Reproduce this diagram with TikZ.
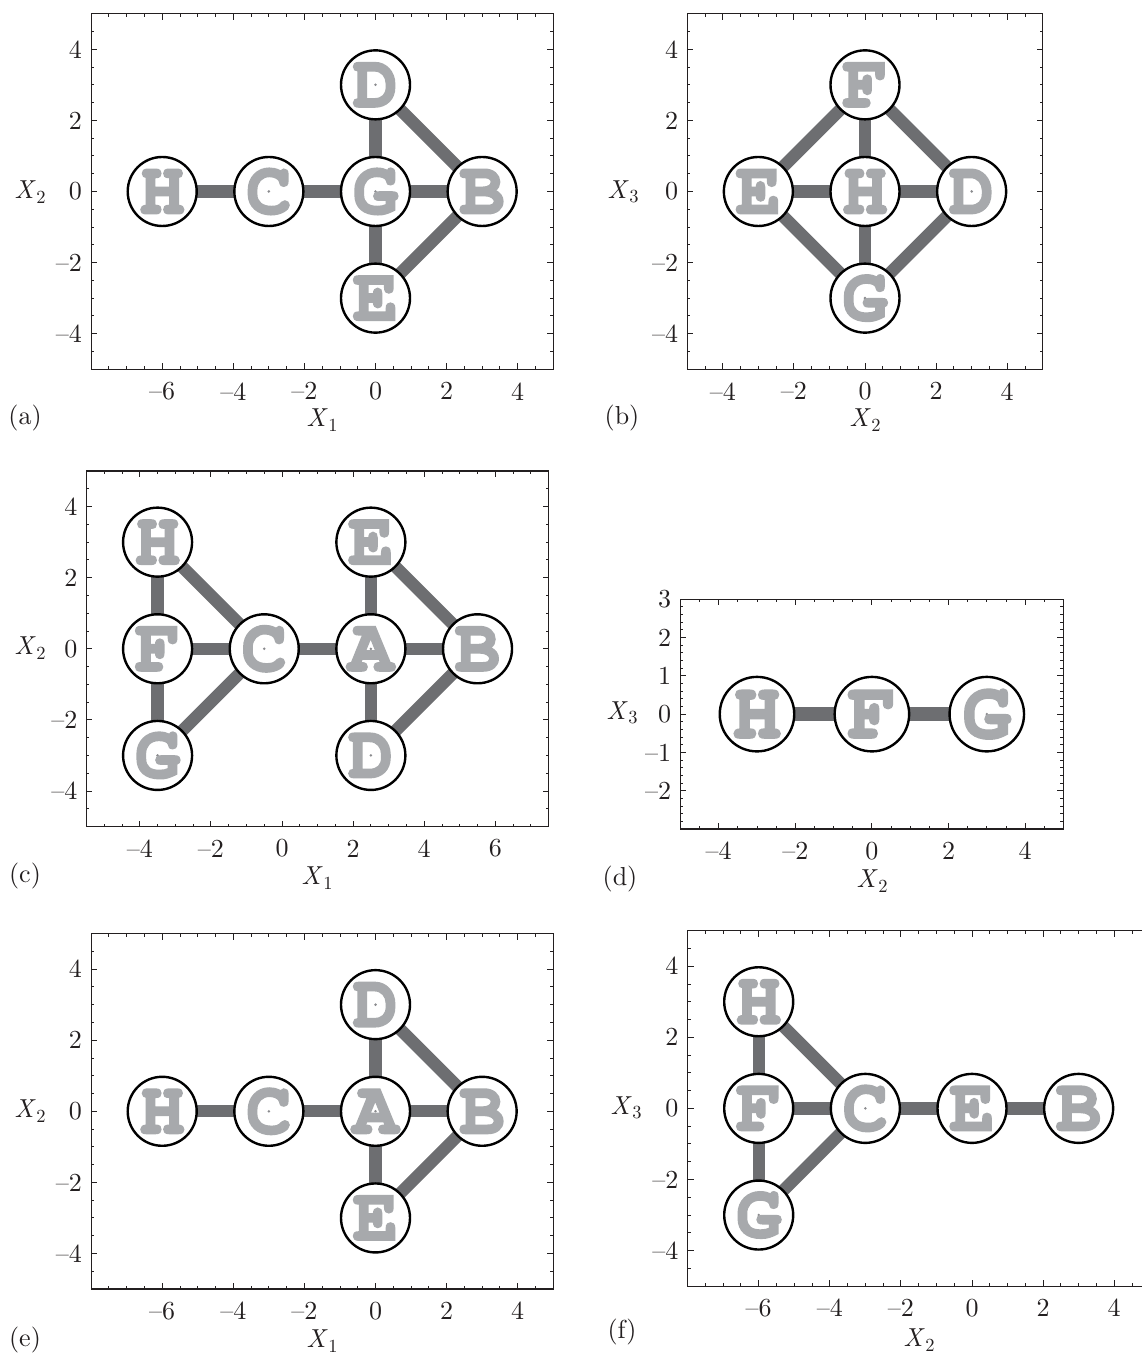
\documentclass[tikz,border=0pt]{standalone}
\usepackage{fontspec}
\setmainfont{lmroman10-regular}[Extension=.otf, ItalicFont=lmroman10-italic, BoldFont=lmroman10-bold]
\newfontfamily\letterfont{TeX Gyre Cursor}[BoldFeatures={FakeBold=3}]
\definecolor{edgegray}{HTML}{6D6E71}
\definecolor{lettergray}{HTML}{A7A9AC}
\definecolor{dotgray}{HTML}{8A8B8E}
\definecolor{inkblack}{HTML}{231F20}
\pgfdeclarelayer{bg}
\pgfsetlayers{bg,main}
\newcommand\xlab[1]{\textit{X}\kern0.02em\raisebox{-0.17em}{\fontsize{18.5}{18.5}\selectfont #1}}
\tikzset{
  frameline/.style={line width=1.2pt, draw=inkblack},
  tickline/.style={line width=0.9pt, draw=inkblack},
  ticklab/.style={font=\fontsize{26}{26}\selectfont, text=inkblack, inner sep=0pt},
  axlab/.style={font=\fontsize{26}{26}\selectfont, text=inkblack, inner sep=0pt},
  edgeline/.style={line width=12.3pt, draw=edgegray},
  edgelined/.style={line width=13.3pt, draw=edgegray},
  vtx/.style={circle, draw=black, line width=2.4pt, fill=white, minimum size=69pt,
    inner sep=0pt, text=lettergray, font=\letterfont\bfseries\fontsize{75}{75}\selectfont,
    path picture={\fill[dotgray] (path picture bounding box.center) circle (1.4pt);}},
  vtxd/.style={vtx, minimum size=74.5pt, font=\letterfont\bfseries\fontsize{80.5}{80.5}\selectfont},
}
% minor ticks along x: #1 xmin, #2 count, #3 step, #4 ymin, #5 ymax
\newcommand\myticksx[5]{%
  \foreach \i in {0,...,#2}{%
    \draw[tickline] ({#1+\i*#3},#4) -- ++(0pt,3pt);
    \draw[tickline] ({#1+\i*#3},#5) -- ++(0pt,-3pt);}}
% minor ticks along y: #1 ymin, #2 count, #3 step, #4 xmin, #5 xmax
\newcommand\myticksy[5]{%
  \foreach \i in {0,...,#2}{%
    \draw[tickline] (#4,{#1+\i*#3}) -- ++(3pt,0pt);
    \draw[tickline] (#5,{#1+\i*#3}) -- ++(-3pt,0pt);}}
\begin{document}
\begin{tikzpicture}[x=1pt,y=1pt]
\useasboundingbox (0,0) rectangle (1142,1353);

% ================= (a) =================
\begin{scope}[xshift=375.5pt,yshift=1161.5pt,x=35.55pt,y=35.55pt]
  \draw[frameline] (-8,-5) rectangle (5,5);
  \myticksx{-8}{26}{0.5}{-5}{5}
  \myticksy{-5}{20}{0.5}{-8}{5}
  \foreach \t/\s in {-6/--6,-4/--4,-2/--2,0/0,2/2,4/4}{%
    \draw[tickline] (\t,-5) -- ++(0pt,6pt);
    \draw[tickline] (\t,5) -- ++(0pt,-6pt);
    \node[ticklab] at ([yshift=-22pt]\t,-5) {\s};}
  \foreach \t/\s in {-4/--4,-2/--2,0/0,2/2,4/4}{%
    \draw[tickline] (-8,\t) -- ++(6pt,0pt);
    \draw[tickline] (5,\t) -- ++(-6pt,0pt);
    \node[ticklab,anchor=east] at ([xshift=-9pt]-8,\t) {\s};}
  \node[vtx] (aH) at (-6,0) {H};
  \node[vtx] (aC) at (-3,0) {C};
  \node[vtx] (aG) at (0,0) {G};
  \node[vtx] (aB) at (3,0) {B};
  \node[vtx] (aD) at (0,3) {D};
  \node[vtx] (aE) at (0,-3) {E};
  \begin{pgfonlayer}{bg}
    \draw[edgeline] (aH.center) -- (aC.center);
    \draw[edgeline] (aC.center) -- (aG.center);
    \draw[edgeline] (aG.center) -- (aB.center);
    \draw[edgeline] (aG.center) -- (aD.center);
    \draw[edgeline] (aG.center) -- (aE.center);
    \draw[edgeline] (aD.center) -- (aB.center);
    \draw[edgeline] (aE.center) -- (aB.center);
  \end{pgfonlayer}
\end{scope}
\node[axlab] (la) at (25,935) {(a)};
\node[axlab] (xa) at (322,933) {\xlab{1}};
\node[axlab] (ya) at (30,1161) {\xlab{2}};

% ================= (b) =================
\begin{scope}[xshift=865pt,yshift=1161.5pt,x=35.55pt,y=35.55pt]
  \draw[frameline] (-5,-5) rectangle (5,5);
  \myticksx{-5}{20}{0.5}{-5}{5}
  \myticksy{-5}{20}{0.5}{-5}{5}
  \foreach \t/\s in {-4/--4,-2/--2,0/0,2/2,4/4}{%
    \draw[tickline] (\t,-5) -- ++(0pt,6pt);
    \draw[tickline] (\t,5) -- ++(0pt,-6pt);
    \node[ticklab] at ([yshift=-22pt]\t,-5) {\s};
    \draw[tickline] (-5,\t) -- ++(6pt,0pt);
    \draw[tickline] (5,\t) -- ++(-6pt,0pt);
    \node[ticklab,anchor=east] at ([xshift=-9pt]-5,\t) {\s};}
  \node[vtx] (bF) at (0,3) {F};
  \node[vtx] (bE) at (-3,0) {E};
  \node[vtx] (bH) at (0,0) {H};
  \node[vtx] (bD) at (3,0) {D};
  \node[vtx] (bG) at (0,-3) {G};
  \begin{pgfonlayer}{bg}
    \draw[edgeline] (bE.center) -- (bF.center);
    \draw[edgeline] (bF.center) -- (bD.center);
    \draw[edgeline] (bD.center) -- (bG.center);
    \draw[edgeline] (bG.center) -- (bE.center);
    \draw[edgeline] (bF.center) -- (bH.center);
    \draw[edgeline] (bH.center) -- (bG.center);
    \draw[edgeline] (bE.center) -- (bH.center);
    \draw[edgeline] (bH.center) -- (bD.center);
  \end{pgfonlayer}
\end{scope}
\node[axlab] (lb) at (622,935) {(b)};
\node[axlab] (xb) at (865,933) {\xlab{2}};
\node[axlab] (yb) at (623,1161) {\xlab{3}};

% ================= (c) =================
\begin{scope}[xshift=282pt,yshift=704.2pt,x=35.55pt,y=35.55pt]
  \draw[frameline] (-5.5,-5) rectangle (7.5,5);
  \myticksx{-5.5}{26}{0.5}{-5}{5}
  \myticksy{-5}{20}{0.5}{-5.5}{7.5}
  \foreach \t/\s in {-4/--4,-2/--2,0/0,2/2,4/4,6/6}{%
    \draw[tickline] (\t,-5) -- ++(0pt,6pt);
    \draw[tickline] (\t,5) -- ++(0pt,-6pt);
    \node[ticklab] at ([yshift=-22pt]\t,-5) {\s};}
  \foreach \t/\s in {-4/--4,-2/--2,0/0,2/2,4/4}{%
    \draw[tickline] (-5.5,\t) -- ++(6pt,0pt);
    \draw[tickline] (7.5,\t) -- ++(-6pt,0pt);
    \node[ticklab,anchor=east] at ([xshift=-9pt]-5.5,\t) {\s};}
  \node[vtx] (cH) at (-3.5,3) {H};
  \node[vtx] (cF) at (-3.5,0) {F};
  \node[vtx] (cG) at (-3.5,-3) {G};
  \node[vtx] (cC) at (-0.5,0) {C};
  \node[vtx] (cA) at (2.5,0) {A};
  \node[vtx] (cE) at (2.5,3) {E};
  \node[vtx] (cD) at (2.5,-3) {D};
  \node[vtx] (cB) at (5.5,0) {B};
  \begin{pgfonlayer}{bg}
    \draw[edgeline] (cH.center) -- (cF.center);
    \draw[edgeline] (cF.center) -- (cG.center);
    \draw[edgeline] (cH.center) -- (cC.center);
    \draw[edgeline] (cF.center) -- (cC.center);
    \draw[edgeline] (cG.center) -- (cC.center);
    \draw[edgeline] (cC.center) -- (cA.center);
    \draw[edgeline] (cA.center) -- (cE.center);
    \draw[edgeline] (cA.center) -- (cD.center);
    \draw[edgeline] (cA.center) -- (cB.center);
    \draw[edgeline] (cE.center) -- (cB.center);
    \draw[edgeline] (cD.center) -- (cB.center);
  \end{pgfonlayer}
\end{scope}
\node[axlab] (lc) at (25,477) {(c)};
\node[axlab] (xc) at (317,475) {\xlab{1}};
\node[axlab] (yc) at (30,705) {\xlab{2}};

% ================= (d) =================
\begin{scope}[xshift=871.9pt,yshift=638.85pt,x=38.3pt,y=38.3pt]
  \draw[frameline] (-5,-3) rectangle (5,3);
  \myticksx{-5}{20}{0.5}{-3}{3}
  \myticksy{-3}{30}{0.2}{-5}{5}
  \foreach \t/\s in {-4/--4,-2/--2,0/0,2/2,4/4}{%
    \draw[tickline] (\t,-3) -- ++(0pt,6pt);
    \draw[tickline] (\t,3) -- ++(0pt,-6pt);
    \node[ticklab] at ([yshift=-22pt]\t,-3) {\s};}
  \foreach \t/\s in {-2/--2,-1/--1,0/0,1/1,2/2,3/3}{%
    \draw[tickline] (-5,\t) -- ++(6pt,0pt);
    \draw[tickline] (5,\t) -- ++(-6pt,0pt);
    \node[ticklab,anchor=east] at ([xshift=-9pt]-5,\t) {\s};}
  \node[vtxd] (dH) at (-3,0) {H};
  \node[vtxd] (dF) at (0,0) {F};
  \node[vtxd] (dG) at (3,0) {G};
  \begin{pgfonlayer}{bg}
    \draw[edgelined] (dH.center) -- (dF.center);
    \draw[edgelined] (dF.center) -- (dG.center);
  \end{pgfonlayer}
\end{scope}
\node[axlab] (ld) at (620,474) {(d)};
\node[axlab] (xd) at (872,472) {\xlab{2}};
\node[axlab] (yd) at (622,640) {\xlab{3}};

% ================= (e) =================
\begin{scope}[xshift=375.5pt,yshift=241.7pt,x=35.55pt,y=35.55pt]
  \draw[frameline] (-8,-5) rectangle (5,5);
  \myticksx{-8}{26}{0.5}{-5}{5}
  \myticksy{-5}{20}{0.5}{-8}{5}
  \foreach \t/\s in {-6/--6,-4/--4,-2/--2,0/0,2/2,4/4}{%
    \draw[tickline] (\t,-5) -- ++(0pt,6pt);
    \draw[tickline] (\t,5) -- ++(0pt,-6pt);
    \node[ticklab] at ([yshift=-22pt]\t,-5) {\s};}
  \foreach \t/\s in {-4/--4,-2/--2,0/0,2/2,4/4}{%
    \draw[tickline] (-8,\t) -- ++(6pt,0pt);
    \draw[tickline] (5,\t) -- ++(-6pt,0pt);
    \node[ticklab,anchor=east] at ([xshift=-9pt]-8,\t) {\s};}
  \node[vtx] (eH) at (-6,0) {H};
  \node[vtx] (eC) at (-3,0) {C};
  \node[vtx] (eA) at (0,0) {A};
  \node[vtx] (eB) at (3,0) {B};
  \node[vtx] (eD) at (0,3) {D};
  \node[vtx] (eE) at (0,-3) {E};
  \begin{pgfonlayer}{bg}
    \draw[edgeline] (eH.center) -- (eC.center);
    \draw[edgeline] (eC.center) -- (eA.center);
    \draw[edgeline] (eA.center) -- (eB.center);
    \draw[edgeline] (eA.center) -- (eD.center);
    \draw[edgeline] (eA.center) -- (eE.center);
    \draw[edgeline] (eD.center) -- (eB.center);
    \draw[edgeline] (eE.center) -- (eB.center);
  \end{pgfonlayer}
\end{scope}
\node[axlab] (le) at (25,13) {(e)};
\node[axlab] (xe) at (322,12) {\xlab{1}};
\node[axlab] (ye) at (30,242) {\xlab{2}};

% ================= (f) =================
\begin{scope}
\clip (0,0) rectangle (1142,1353);
\begin{scope}[xshift=972pt,yshift=244.6pt,x=35.55pt,y=35.55pt]
  \draw[frameline] (-8,-5) rectangle (5,5);
  \myticksx{-8}{26}{0.5}{-5}{5}
  \myticksy{-5}{20}{0.5}{-8}{5}
  \foreach \t/\s in {-6/--6,-4/--4,-2/--2,0/0,2/2,4/4}{%
    \draw[tickline] (\t,-5) -- ++(0pt,6pt);
    \draw[tickline] (\t,5) -- ++(0pt,-6pt);
    \node[ticklab] at ([yshift=-22pt]\t,-5) {\s};}
  \foreach \t/\s in {-4/--4,-2/--2,0/0,2/2,4/4}{%
    \draw[tickline] (-8,\t) -- ++(6pt,0pt);
    \draw[tickline] (5,\t) -- ++(-6pt,0pt);
    \node[ticklab,anchor=east] at ([xshift=-9pt]-8,\t) {\s};}
  \node[vtx] (fH) at (-6,3) {H};
  \node[vtx] (fF) at (-6,0) {F};
  \node[vtx] (fG) at (-6,-3) {G};
  \node[vtx] (fC) at (-3,0) {C};
  \node[vtx] (fE) at (0,0) {E};
  \node[vtx] (fB) at (3,0) {B};
  \begin{pgfonlayer}{bg}
    \draw[edgeline] (fH.center) -- (fF.center);
    \draw[edgeline] (fF.center) -- (fG.center);
    \draw[edgeline] (fH.center) -- (fC.center);
    \draw[edgeline] (fF.center) -- (fC.center);
    \draw[edgeline] (fG.center) -- (fC.center);
    \draw[edgeline] (fC.center) -- (fE.center);
    \draw[edgeline] (fE.center) -- (fB.center);
  \end{pgfonlayer}
\end{scope}
\end{scope}
\node[axlab] (lf) at (622,21) {(f)};
\node[axlab] (xf) at (919,13) {\xlab{2}};
\node[axlab] (yf) at (626,245) {\xlab{3}};
\end{tikzpicture}
\end{document}
